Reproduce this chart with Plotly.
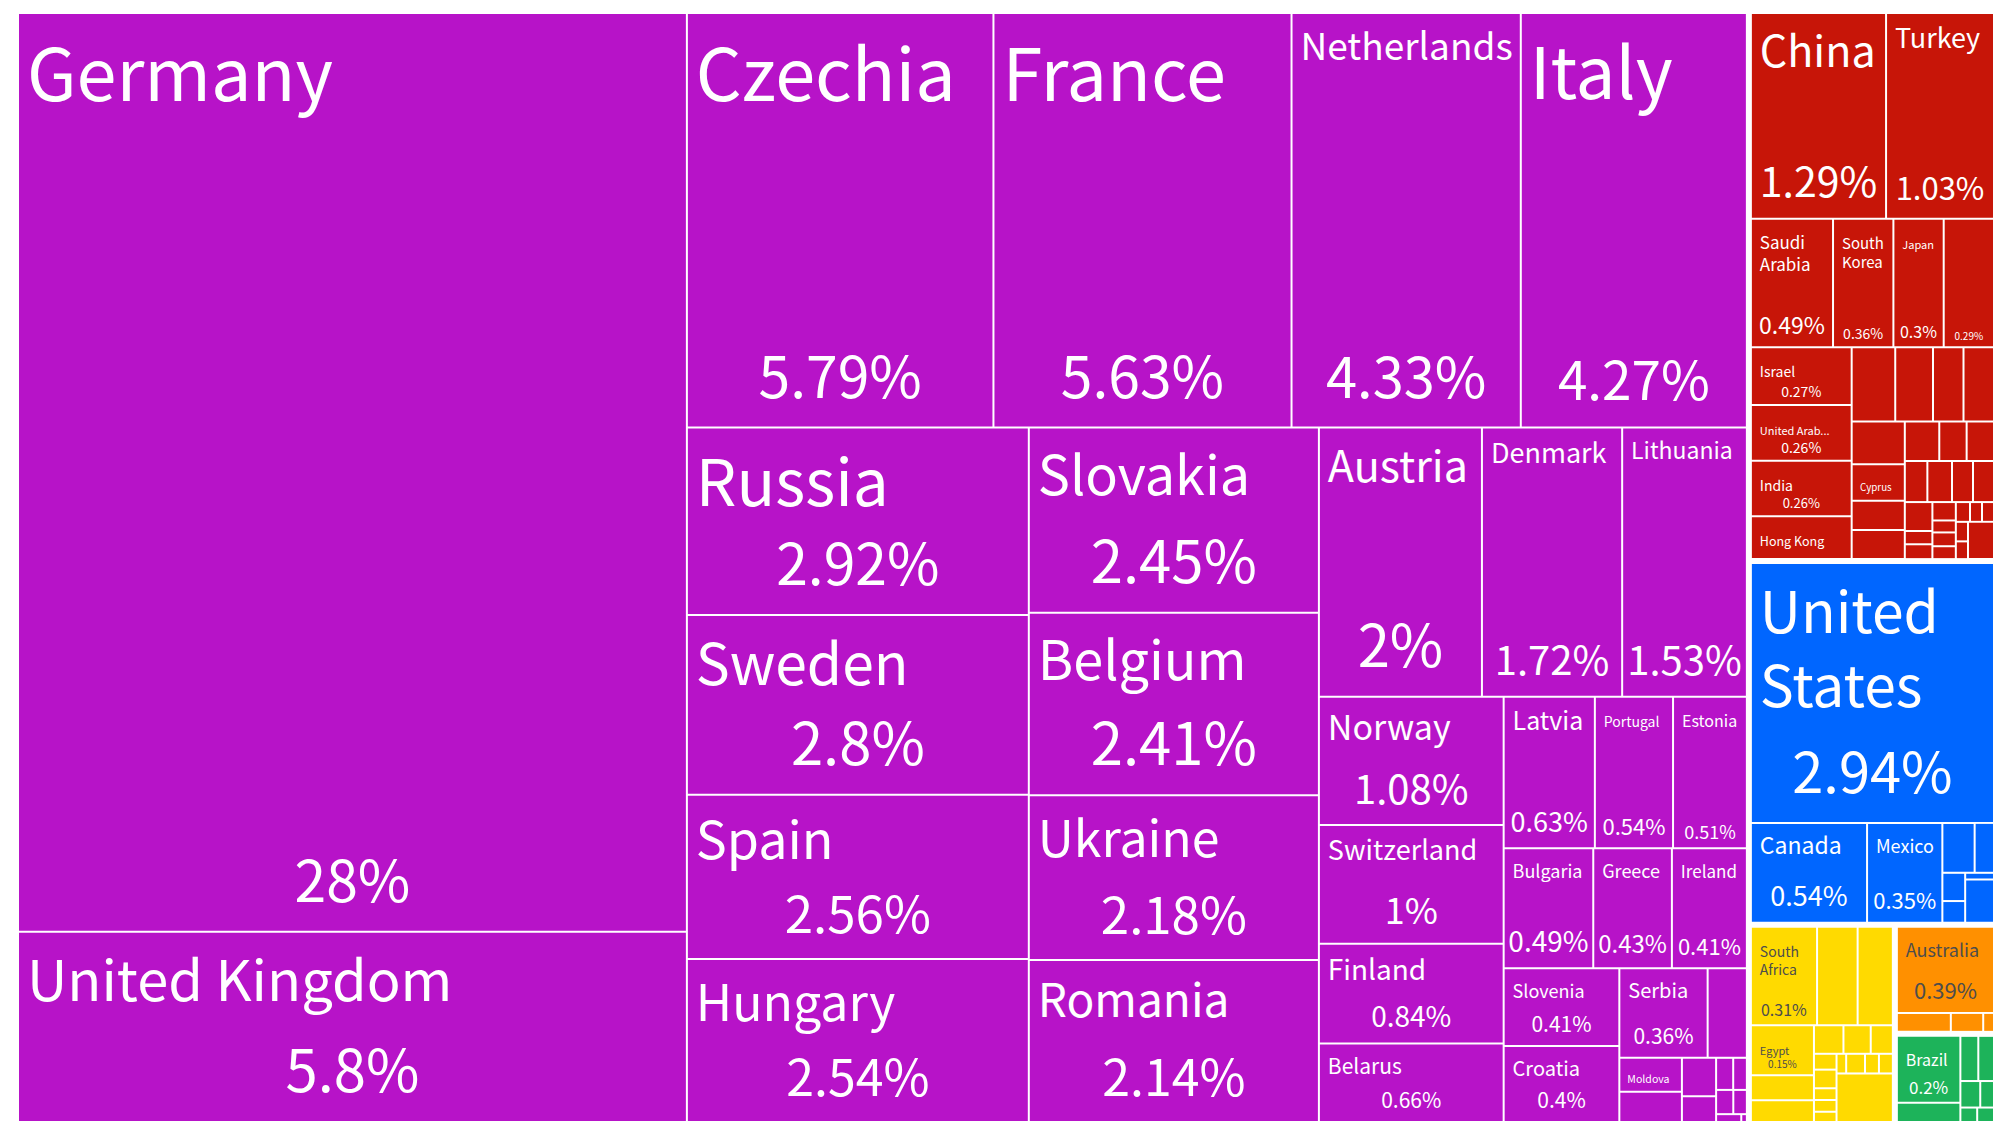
import plotly.graph_objects as go

continents = ["Europe", "Asia", "North America", "Africa", "Oceania", "South America"]
continent_colors = {
    "Europe": "#B713C8",
    "Asia": "#C71508",
    "North America": "#0066FF",
    "Africa": "#FFDA00",
    "Oceania": "#FF9000",
    "South America": "#1DB35A",
}
text_colors = {
    "Europe": "white",
    "Asia": "white",
    "North America": "white",
    "Africa": "#4d4d4d",
    "Oceania": "#4d4d4d",
    "South America": "white",
}

# name, share, shown percent, name font size, percent font size
europe = [
    ("Germany", 28, "28%", 72, 57), ("United Kingdom", 5.8, "5.8%", 56, 58),
    ("Czechia", 5.79, "5.79%", 72, 57), ("France", 5.63, "5.63%", 72, 57),
    ("Netherlands", 4.33, "4.33%", 37, 56), ("Italy", 4.27, "4.27%", 71, 53),
    ("Russia", 2.92, "2.92%", 64, 57), ("Sweden", 2.8, "2.8%", 57, 58),
    ("Spain", 2.56, "2.56%", 52, 51), ("Hungary", 2.54, "2.54%", 50, 50),
    ("Slovakia", 2.45, "2.45%", 54, 58), ("Belgium", 2.41, "2.41%", 54, 58),
    ("Ukraine", 2.18, "2.18%", 50, 51), ("Romania", 2.14, "2.14%", 46, 50),
    ("Austria", 2.0, "2%", 43, 58), ("Denmark", 1.72, "1.72%", 27, 40),
    ("Lithuania", 1.53, "1.53%", 23, 40), ("Norway", 1.08, "1.08%", 34, 40),
    ("Switzerland", 1.0, "1%", 27, 36), ("Finland", 0.84, "0.84%", 28, 28),
    ("Belarus", 0.66, "0.66%", 21, 21), ("Latvia", 0.63, "0.63%", 25, 27),
    ("Portugal", 0.54, "0.54%", 14, 22), ("Estonia", 0.51, "0.51%", 16, 18),
    ("Bulgaria", 0.49, "0.49%", 18, 28), ("Greece", 0.43, "0.43%", 18, 24),
    ("Ireland", 0.41, "0.41%", 17, 22), ("Slovenia", 0.41, "0.41%", 18, 21),
    ("Croatia", 0.4, "0.4%", 20, 21), ("Serbia", 0.36, "0.36%", 20, 21),
    ("", 0.16, "", 10, 10), ("Moldova", 0.097, "", 13, 10), ("", 0.086, "", 10, 10),
    ("", 0.06, "", 10, 10), ("", 0.04, "", 10, 10), ("", 0.025, "", 10, 10),
    ("", 0.02, "", 10, 10), ("", 0.019, "", 10, 10), ("", 0.015, "", 10, 10),
    ("", 0.009, "", 10, 10), ("", 0.002, "", 10, 10),
]
asia = [
    ("China", 1.29, "1.29%", 43, 41), ("Turkey", 1.03, "1.03%", 27, 31),
    ("Saudi<br>Arabia", 0.49, "0.49%", 17, 23), ("South<br>Korea", 0.36, "0.36%", 15, 14),
    ("Japan", 0.3, "0.3%", 11, 16), ("", 0.3, "0.29%", 10, 10),
    ("Israel", 0.27, "0.27%", 14, 14), ("United Arab...", 0.26, "0.26%", 11, 14),
    ("India", 0.26, "0.26%", 14, 13), ("Hong Kong", 0.2, "", 12.5, 10),
    ("", 0.15, "", 10, 10), ("", 0.13, "", 10, 10), ("", 0.105, "", 10, 10),
    ("", 0.105, "", 10, 10), ("", 0.105, "", 10, 10), ("Cyprus", 0.09, "", 11, 10),
    ("", 0.072, "", 10, 10), ("", 0.072, "", 10, 10), ("", 0.063, "", 10, 10),
    ("", 0.05, "", 10, 10), ("", 0.05, "", 10, 10), ("", 0.043, "", 10, 10),
    ("", 0.047, "", 10, 10), ("", 0.04, "", 10, 10), ("", 0.04, "", 10, 10),
    ("", 0.037, "", 10, 10), ("", 0.017, "", 10, 10), ("", 0.019, "", 10, 10),
    ("", 0.02, "", 10, 10), ("", 0.013, "", 10, 10), ("", 0.015, "", 10, 10),
    ("", 0.014, "", 10, 10), ("", 0.013, "", 10, 10), ("", 0.011, "", 10, 10),
    ("", 0.011, "", 10, 10), ("", 0.011, "", 10, 10), ("", 0.01, "", 10, 10),
    ("", 0.045, "", 10, 10),
]
north_america = [
    ("United<br>States", 2.94, "2.94%", 57, 56), ("Canada", 0.54, "0.54%", 23, 27),
    ("Mexico", 0.35, "0.35%", 18, 22), ("", 0.075, "", 10, 10), ("", 0.045, "", 10, 10),
    ("", 0.03, "", 10, 10), ("", 0.023, "", 10, 10), ("", 0.009, "", 10, 10),
    ("", 0.058, "", 10, 10),
]
africa = [
    ("South<br>Africa", 0.31, "0.31%", 14, 16), ("", 0.19, "", 10, 10), ("", 0.165, "", 10, 10),
    ("Egypt", 0.15, "0.15%", 11, 10), ("", 0.075, "", 10, 10), ("", 0.065, "", 10, 10),
    ("", 0.04, "", 10, 10), ("", 0.037, "", 10, 10), ("", 0.03, "", 10, 10),
    ("", 0.017, "", 10, 10), ("", 0.02, "", 10, 10), ("", 0.0126, "", 10, 10),
    ("", 0.0126, "", 10, 10), ("", 0.011, "", 10, 10), ("", 0.009, "", 10, 10),
    ("", 0.0176, "", 10, 10), ("", 0.013, "", 10, 10), ("", 0.013, "", 10, 10),
    ("", 0.13, "", 10, 10),
]
oceania = [
    ("Australia", 0.41, "0.39%", 18, 22), ("", 0.05, "", 10, 10), ("", 0.03, "", 10, 10),
    ("", 0.01, "", 10, 10),
]
south_america = [
    ("Brazil", 0.21, "0.2%", 16, 17), ("", 0.06, "", 10, 10), ("", 0.04, "", 10, 10),
    ("", 0.035, "", 10, 10), ("", 0.026, "", 10, 10), ("", 0.018, "", 10, 10),
    ("", 0.012, "", 10, 10), ("", 0.012, "", 10, 10),
]
groups = [europe, asia, north_america, africa, oceania, south_america]

indent = '<span style="font-size:22px">&nbsp;</span>'


def share_text(pct, size):
    # the extra thin line lifts large percents off the bottom edge
    if pct and size >= 20:
        return f'<span style="font-size:{size}px">{pct}</span><br>&nbsp;'
    return pct


ids, parents, values, names, shares, colors, txt_colors, name_sizes, share_sizes = \
    [], [], [], [], [], [], [], [], []
for cont, rows in zip(continents, groups):
    ids.append(cont)
    parents.append("")
    values.append(0)
    names.append("")
    shares.append("")
    colors.append("white")
    txt_colors.append("white")
    name_sizes.append(10)
    share_sizes.append(10)
    for i, (name, val, pct, ns, ps) in enumerate(rows):
        ids.append(f"{cont}-{i}")
        parents.append(cont)
        values.append(val)
        # plotly leaves almost no inset on the left, so push each line in a bit
        names.append("<br>".join(indent + part for part in name.split("<br>")) if name else "")
        shares.append(share_text(pct, ps))
        colors.append(continent_colors[cont])
        txt_colors.append(text_colors[cont])
        name_sizes.append(ns)
        share_sizes.append(round(ps * 0.28) if ps >= 20 else ps)

font_name = "Noto Sans CJK SC"
common = dict(
    ids=ids, labels=ids, parents=parents, values=values, branchvalues="remainder",
    sort=False, textinfo="text", hoverinfo="skip",
    tiling=dict(packing="squarify", squarifyratio=1.618, pad=2),
    pathbar=dict(visible=False),
)

fig = go.Figure()
fig.add_trace(go.Treemap(
    text=names, textposition="top left",
    textfont=dict(family=font_name, size=name_sizes, color=txt_colors),
    marker=dict(colors=colors, line=dict(width=0), pad=dict(t=2, l=2, r=2, b=2)),
    **common,
))
fig.add_trace(go.Treemap(
    text=shares, textposition="bottom center",
    textfont=dict(family=font_name, size=share_sizes, color=txt_colors),
    marker=dict(colors=["rgba(0,0,0,0)"] * len(ids), line=dict(width=0), pad=dict(t=2, l=2, r=2, b=2)),
    **common,
))
fig.update_layout(
    paper_bgcolor="white",
    margin=dict(l=7, r=7, t=2, b=1),
    showlegend=False,
)
fig.write_html("out.html")
